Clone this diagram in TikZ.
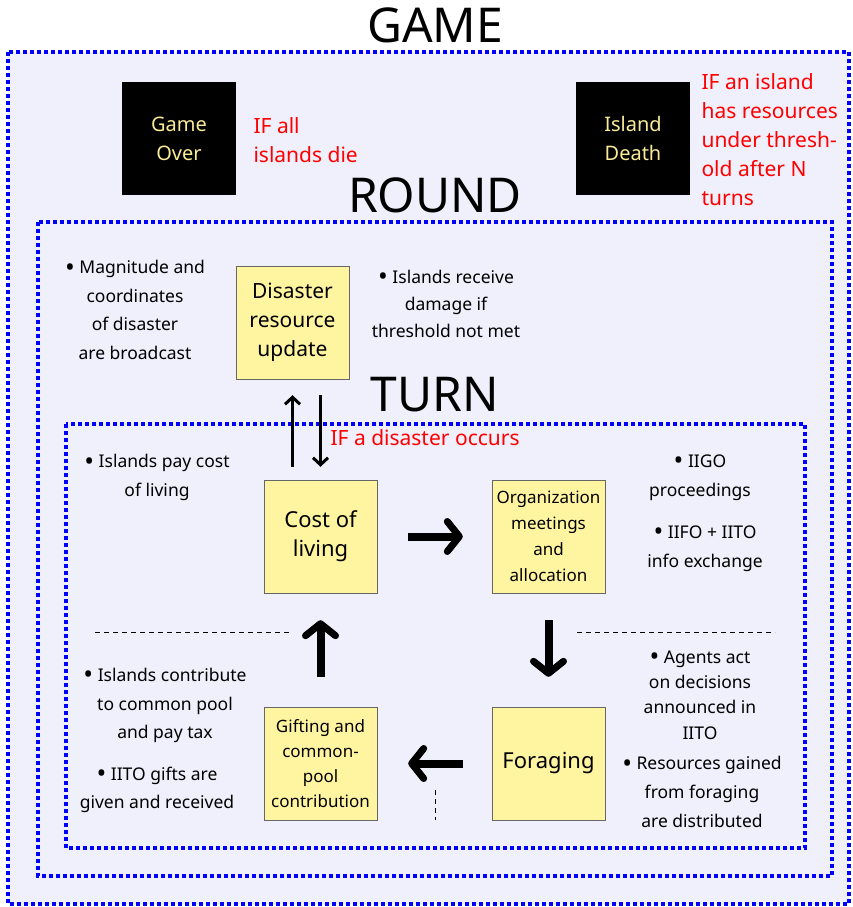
\documentclass[tikz,border=0pt]{standalone}
\usepackage{fontspec}
\setmainfont{Noto Sans}
\usepackage{xcolor}
\usetikzlibrary{arrows.meta}
\definecolor{panel}{RGB}{240,240,252}
\definecolor{stagefill}{RGB}{255,245,160}
\definecolor{endtext}{RGB}{250,235,150}
\newcommand{\bul}{\raisebox{-2.5pt}{\fontsize{26}{0}\selectfont•}}

\begin{document}
\begin{tikzpicture}[x=1pt,y=-1pt,
    frame/.style={blue,line width=4.5pt,dash pattern=on 4pt off 3pt},
    title/.style={font=\fontsize{48}{50}\selectfont},
    stage/.style={draw=black!60,fill=stagefill,minimum width=113pt,minimum height=113pt,align=center,inner sep=1pt},
    endbox/.style={fill=black,text=endtext,minimum width=114pt,minimum height=113pt,align=center,font=\fontsize{20}{29}\selectfont},
    cond/.style={red,align=left,font=\fontsize{21}{29}\selectfont},
    note/.style={align=center,font=\fontsize{17.5}{28.7}\selectfont},
    thin/.style={line width=3pt,-{Straight Barb[length=7pt,width=15pt]}},
    thick/.style={line width=8pt,-{Straight Barb[length=12pt,width=30pt,line width=7pt,round]}},
    sep/.style={line width=0.8pt,dash pattern=on 5pt off 4pt}]
          \useasboundingbox (0,0) rectangle (852,907);
          \fill[panel] (8,52) rectangle (849,904);
          % frames
          \draw[frame] (8,52) rectangle (849,904);
          \draw[frame] (38,222) rectangle (832,876);
          \draw[frame] (66,424) rectangle (805,848);
          \node[title] (game) at (435,25) {GAME};
          \node[title] (round) at (435,195) {ROUND};
          \node[title] (turn) at (435,395) {TURN};
          % end states
          \node[endbox] (over) at (179,138.5) {Game\\Over};
          \node[cond,anchor=west] (overif) at (250,140) {IF all\\islands die};
          \node[endbox] (death) at (633,138.5) {Island\\Death};
          \node[cond,anchor=west] (deathif) at (698,139.5) {IF an island\\has resources\\under thresh-\\old after N\\turns};
          % round
          \node[stage,font=\fontsize{21}{29}\selectfont] (disaster) at (292.5,322.5) {Disaster\\resource\\update};
          \node[note] (broadcast) at (135,310) {\bul{} Magnitude and\\coordinates\\of disaster\\are broadcast};
          \node[note,font=\fontsize{17.5}{27}\selectfont] (damage) at (446,303.5) {\bul{} Islands receive\\damage if\\threshold not met};
          \node[cond,anchor=west] (ifdis) at (327,438) {IF a disaster occurs};
          % turn
          \node[stage,font=\fontsize{22}{29}\selectfont] (cost) at (320.5,536.5) {Cost of\\living};
          \node[stage,font=\fontsize{17}{26}\selectfont] (org) at (548.5,536.5) {Organization\\meetings\\and\\allocation};
          \node[stage,font=\fontsize{22}{29}\selectfont] (forage) at (548.5,763.5) {Foraging};
          \node[stage,font=\fontsize{17}{25}\selectfont] (gift) at (320.5,763.5) {Gifting and\\common-\\pool\\contribution};
          \node[note] (paycost) at (157,477.5) {\bul{} Islands pay cost\\of living};
          \node[note] (iigo) at (700,477.5) {\bul{} IIGO\\proceedings};
          \node[note] (iifo) at (705,548.5) {\bul{} IIFO + IITO\\info exchange};
          \node[note,font=\fontsize{17.5}{25.3}\selectfont] (agents) at (700,695) {\bul{} Agents act\\on decisions\\announced in\\IITO};
          \node[note] (gained) at (702,792) {\bul{} Resources gained\\from foraging\\are distributed};
          \node[note] (pool) at (165,705.5) {\bul{} Islands contribute\\to common pool\\and pay tax};
          \node[note] (gifts) at (157,790) {\bul{} IITO gifts are\\given and received};
          % connectors
          \draw[thin,shorten <=13pt,shorten >=16pt] (disaster.south |- cost.north) -- (disaster.south);
          \draw[thin,shorten <=16pt,shorten >=13pt] (cost.north |- disaster.south) -- (cost.north);
          \draw[thick,shorten <=31pt,shorten >=29pt] (cost) -- (org);
          \draw[thick,shorten <=27pt,shorten >=30pt] (org) -- (forage);
          \draw[thick,shorten <=29pt,shorten >=31pt] (forage) -- (gift);
          \draw[thick,shorten <=30pt,shorten >=27pt] (gift) -- (cost);
          \draw[sep] (95,632) -- (290,632);
          \draw[sep] (577,632) -- (775,632);
          \draw[sep] (435,790) -- (435,820);
        \end{tikzpicture}
\end{document}
